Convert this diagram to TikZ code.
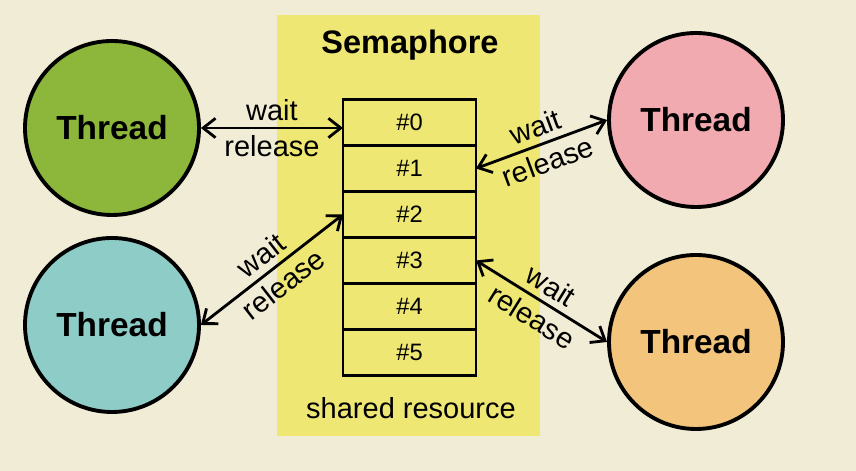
\documentclass[tikz,border=0pt]{standalone}
\usepackage{fontspec}
\setmainfont{Liberation Sans}
\usepackage{xcolor}
\usetikzlibrary{arrows.meta, positioning, calc}
\definecolor{sem-cream}{RGB}{241, 236, 214}
\definecolor{sem-yellow}{RGB}{238, 231, 115}
\definecolor{th-green}{RGB}{141, 183, 58}
\definecolor{th-teal}{RGB}{142, 205, 199}
\definecolor{th-pink}{RGB}{241, 170, 176}
\definecolor{th-orange}{RGB}{242, 196, 124}

\begin{document}
\begin{tikzpicture}[
        thread/.style={circle, draw=black, line width=2.2pt,
                       minimum size=3.48cm, inner sep=0pt,
                       font=\fontsize{19}{22}\selectfont\bfseries},
        slot/.style={rectangle, draw=black, line width=1.5pt, outer sep=0pt,
                     minimum width=2.66cm, minimum height=0.92cm,
                     font=\fontsize{13.5}{16}\selectfont},
        arr/.style={{Straight Barb[length=7pt, width=11pt]}-{Straight Barb[length=7pt, width=11pt]},
                    line width=1.6pt},
        lbl/.style={font=\fontsize{16.5}{19}\selectfont, sloped, inner sep=3.5pt}
      ]
        \useasboundingbox (0,0) rectangle (17.12,9.42);
        \fill[sem-cream] (0,0) rectangle (17.12,9.42);
        \fill[sem-yellow] (5.54,0.7) rectangle (10.8,9.12);
        \node[font=\fontsize{18.5}{22}\selectfont\bfseries] (title) at (8.2,8.52) {Semaphore};
        % the slots of the shared resource
        \node[slot] (s0) at (8.19,6.97) {\#0};
        \node[slot, below=0cm of s0] (s1) {\#1};
        \node[slot, below=0cm of s1] (s2) {\#2};
        \node[slot, below=0cm of s2] (s3) {\#3};
        \node[slot, below=0cm of s3] (s4) {\#4};
        \node[slot, below=0cm of s4] (s5) {\#5};
        \node[font=\fontsize{16.5}{19}\selectfont] (res) at (8.22,1.26) {shared resource};
        % threads
        \node[thread, fill=th-green]  (tg) at (2.24,6.86)  {Thread};
        \node[thread, fill=th-teal]   (tt) at (2.24,2.92)  {Thread};
        \node[thread, fill=th-pink]   (tp) at (13.92,7.02) {Thread};
        \node[thread, fill=th-orange] (to) at (13.92,2.58) {Thread};
        \draw[arr] (tg.east) -- node[lbl, above] {wait} node[lbl, below] {release} (tg.east -| s0.west);
        \draw[arr] (tt.east) -- node[lbl, above] {wait} node[lbl, below] {release} (s2.west);
        \draw[arr] (s1.east) -- node[lbl, above] {wait} node[lbl, below] {release} (tp.west);
        \draw[arr] (s3.east) -- node[lbl, above] {wait} node[lbl, below] {release} (to.west);
      \end{tikzpicture}
\end{document}
